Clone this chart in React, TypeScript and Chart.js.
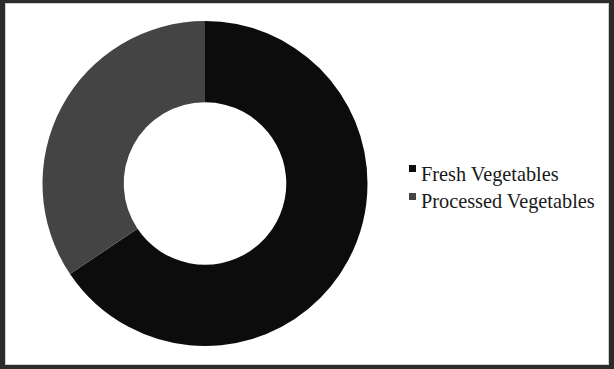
import React, { useEffect, useRef } from "react";
import { Chart, registerables } from "chart.js";

Chart.register(...registerables);

const categories = ["Fresh Vegetables", "Processed Vegetables"];
const shares = [65.6, 34.4];
const sliceColors = ["#0c0c0c", "#444444"];

export default function App() {
  const ref = useRef<HTMLCanvasElement | null>(null);

  useEffect(() => {
    document.body.style.margin = "0";
    document.body.style.background = "#2b2b2b";
    const chart = new Chart(ref.current!, {
      type: "doughnut",
      data: {
        labels: categories,
        datasets: [
          {
            data: shares,
            backgroundColor: sliceColors,
            borderWidth: 0,
          },
        ],
      },
      options: {
        animation: false,
        responsive: false,
        cutout: "50%",
        layout: { padding: { top: 17, bottom: 18, left: 0, right: 0 } },
        plugins: {
          tooltip: { enabled: false },
          legend: { display: false },
        },
      },
    });
    return () => chart.destroy();
  }, []);

  return (
    <div style={{ position: "relative", width: 614, height: 369, background: "#2b2b2b" }}>
      <div
        style={{
          position: "absolute",
          left: 5,
          top: 3,
          width: 604,
          height: 362,
          background: "#ffffff",
          boxSizing: "border-box",
          border: "1px solid #cfcfcf",
        }}
      >
        <canvas ref={ref} width={398} height={360} style={{ display: "block" }} />
      </div>
      {categories.map((c, i) => (
        <div key={c}>
          <div
            style={{
              position: "absolute",
              left: 409,
              top: 165 + i * 28,
              width: 7,
              height: 7,
              background: sliceColors[i],
            }}
          />
          <div
            style={{
              position: "absolute",
              left: 421,
              top: 164 + i * 27,
              fontFamily: "'Liberation Serif', 'DejaVu Serif', serif",
              fontSize: 20.3,
              lineHeight: "20px",
              color: "#1a1a1a",
              whiteSpace: "nowrap",
            }}
          >
            {c}
          </div>
        </div>
      ))}
    </div>
  );
}
